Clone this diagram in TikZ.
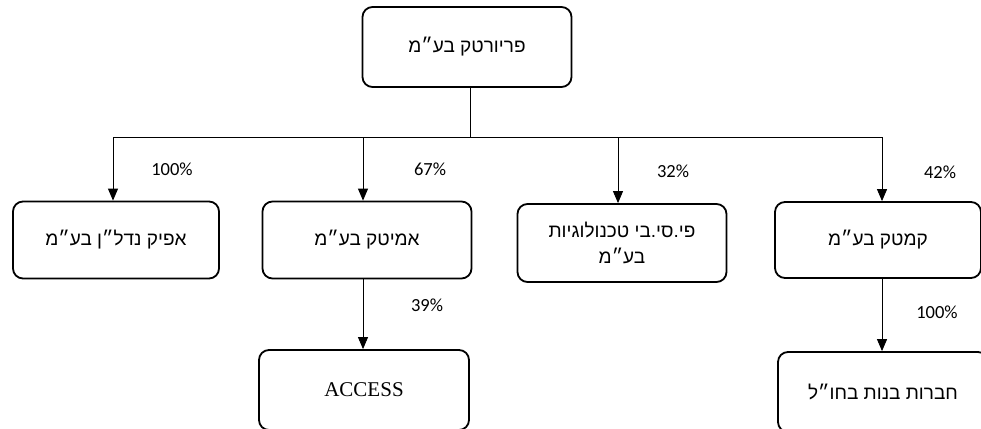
\documentclass[tikz,border=0pt]{standalone}
\usepackage{fontspec}
\usetikzlibrary{arrows.meta}
\TeXXeTstate=1
\newfontfamily\hebfont[Script=Hebrew]{Liberation Sans}
\newfontfamily\pctfont{Carlito}
\newfontfamily\accfont{Liberation Serif}
\tikzset{
  box/.style={draw, line width=1.8pt, rounded corners=10pt, inner sep=0pt, font=\hebfont\fontsize{19}{26}\selectfont, align=center},
  pct/.style={font=\pctfont\fontsize{18.5}{22}\selectfont, inner sep=0pt},
  conn/.style={line width=0.9pt},
  arr/.style={line width=0.9pt, -{Triangle[width=10pt,length=12pt]}}
}
\begin{document}
\begin{tikzpicture}[x=1pt,y=-1pt]
\useasboundingbox (0,0) rectangle (981,428);
\clip (0,0) rectangle (981,428);
% boxes
\node[box, minimum width=209pt, minimum height=80pt] (top) at (467,47) {\beginR פריורטק בע״מ\endR};
\node[box, minimum width=206pt, minimum height=77pt] (b1) at (116,240) {\beginR אפיק נדל״ן בע״מ\endR};
\node[box, minimum width=209pt, minimum height=77pt] (b2) at (367,240) {\beginR אמיטק בע״מ\endR};
\node[box, minimum width=209pt, minimum height=78pt] (b3) at (622,243) {\beginR פי.סי.בי טכנולוגיות\endR\\\beginR בע״מ\endR};
\node[box, minimum width=206pt, minimum height=76pt] (b4) at (878,240) {\beginR קמטק בע״מ\endR};
\node[box, minimum width=210pt, minimum height=80pt, font=\accfont\fontsize{21}{25}\selectfont] (b5) at (364,390) {ACCESS};
\node[box, minimum width=210pt, minimum height=80pt] (b6) at (883,392) {\beginR חברות בנות בחו״ל\endR};
% trunk
\coordinate (j) at (470,137);
\coordinate (c1) at (113,137);
\coordinate (c2) at (363,137);
\coordinate (c3) at (618,137);
\coordinate (c4) at (882,137);
\draw[conn] (top.south -| j) -- (j);
\draw[conn] (c1) -- (c4);
\draw[arr] (c1) -- (c1 |- b1.north);
\draw[arr] (c2) -- (c2 |- b2.north);
\draw[arr] (c3) -- (c3 |- b3.north);
\draw[arr] (c4) -- (c4 |- b4.north);
\draw[arr] (b2.south -| c2) -- (c2 |- b5.north);
\draw[arr] (b4.south -| c4) -- (c4 |- b6.north);
% labels
\node[pct] (p1) at (172,169) {100\%};
\node[pct] (p2) at (430,169) {67\%};
\node[pct] (p3) at (673,171) {32\%};
\node[pct] (p4) at (940,172) {42\%};
\node[pct] (p5) at (427,305) {39\%};
\node[pct] (p6) at (937,312) {100\%};
\end{tikzpicture}
\end{document}
